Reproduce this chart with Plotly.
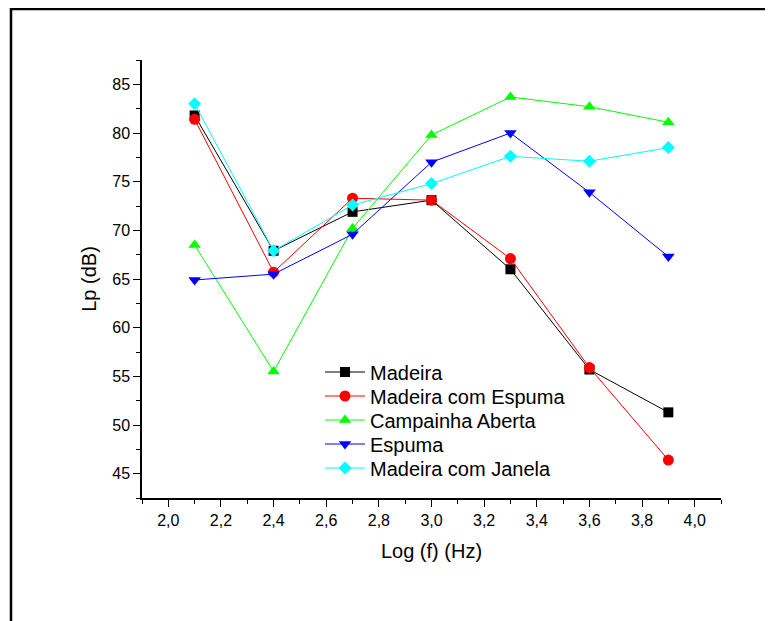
import plotly.graph_objects as go

log_f = [2.1, 2.4, 2.7, 3.0, 3.3, 3.6, 3.9]
madeira = [81.8, 67.9, 71.9, 73.1, 66.0, 55.7, 51.3]
madeira_espuma = [81.4, 65.7, 73.3, 73.1, 67.1, 55.9, 46.4]
campainha_aberta = [68.5, 55.5, 70.2, 79.8, 83.7, 82.7, 81.1]
espuma = [64.9, 65.5, 69.6, 77.0, 80.0, 73.9, 67.3]
madeira_janela = [83.0, 67.9, 72.6, 74.8, 77.6, 77.1, 78.5]

series = [
    ("Madeira", madeira, "#000000", "square", 10),
    ("Madeira com Espuma", madeira_espuma, "#FF0000", "circle", 11),
    ("Campainha Aberta", campainha_aberta, "#00FF00", "triangle-up", 11),
    ("Espuma", espuma, "#0000FF", "triangle-down", 11),
    ("Madeira com Janela", madeira_janela, "#00FFFF", "diamond", 10),
]

W, H = 773, 621
OFF = 8  # browser body margin
# plot area in page pixels: x 142..721, y 60..498
L, T = 142 - OFF, 60 - OFF
pw, ph = 579, 438
R, B = W - L - pw, H - T - ph

def px_x(p):
    return (p - OFF - L) / pw

def px_y(p):
    return 1 - (p - OFF - T) / ph

font = "Liberation Sans, Arial, sans-serif"

legend_rows = [372, 396, 420, 444, 468]

fig = go.Figure()
layout_legends = {}
for i, (name, ys, color, sym, size) in enumerate(series):
    key = "legend" if i == 0 else f"legend{i + 1}"
    fig.add_trace(go.Scatter(
        x=log_f, y=ys, name=name, mode="lines+markers",
        line=dict(color=color, width=1),
        marker=dict(symbol=sym, size=size, color=color, line=dict(width=0)),
        legend=key,
    ))
    layout_legends[key] = dict(
        x=px_x(320), y=px_y(legend_rows[i]), xanchor="left", yanchor="middle",
        font=dict(family=font, size=20, color="black"),
        bgcolor="rgba(0,0,0,0)", borderwidth=0, itemwidth=40,
    )

fig.update_layout(
    width=W, height=H,
    margin=dict(l=L, r=R, t=T, b=B, pad=0),
    paper_bgcolor="white", plot_bgcolor="white",
    separators=",.",
    font=dict(family=font, color="black", size=16),
    showlegend=True,
    xaxis=dict(
        range=[1.9, 4.1], dtick=0.2, tick0=2.0, tickformat=".1f",
        showgrid=False, zeroline=False,
        showline=True, linecolor="black", linewidth=1.5,
        ticks="outside", ticklen=7, tickwidth=1.3, tickcolor="black",
        minor=dict(ticks="outside", ticklen=4, dtick=0.1, tick0=1.9, tickcolor="black", tickwidth=1),
        tickfont=dict(family=font, size=16),
        title=dict(text="Log (f) (Hz)", font=dict(family=font, size=20), standoff=16),
    ),
    yaxis=dict(
        range=[42.5, 87.5], dtick=5, tick0=45,
        showgrid=False, zeroline=False,
        showline=True, linecolor="black", linewidth=1.5,
        ticks="outside", ticklen=7, tickwidth=1.3, tickcolor="black",
        minor=dict(ticks="outside", ticklen=4, dtick=2.5, tick0=42.5, tickcolor="black", tickwidth=1),
        tickfont=dict(family=font, size=16),
        title=dict(text="Lp (dB)", font=dict(family=font, size=20), standoff=10),
    ),
    shapes=[
        dict(type="line", xref="paper", yref="paper",
             x0=px_x(11), x1=px_x(11), y0=px_y(8), y1=px_y(660),
             line=dict(color="black", width=2.5)),
        dict(type="line", xref="paper", yref="paper",
             x0=px_x(10), x1=px_x(820), y0=px_y(9), y1=px_y(9),
             line=dict(color="black", width=2.5)),
    ],
    **layout_legends,
)

fig.write_html("out.html")
